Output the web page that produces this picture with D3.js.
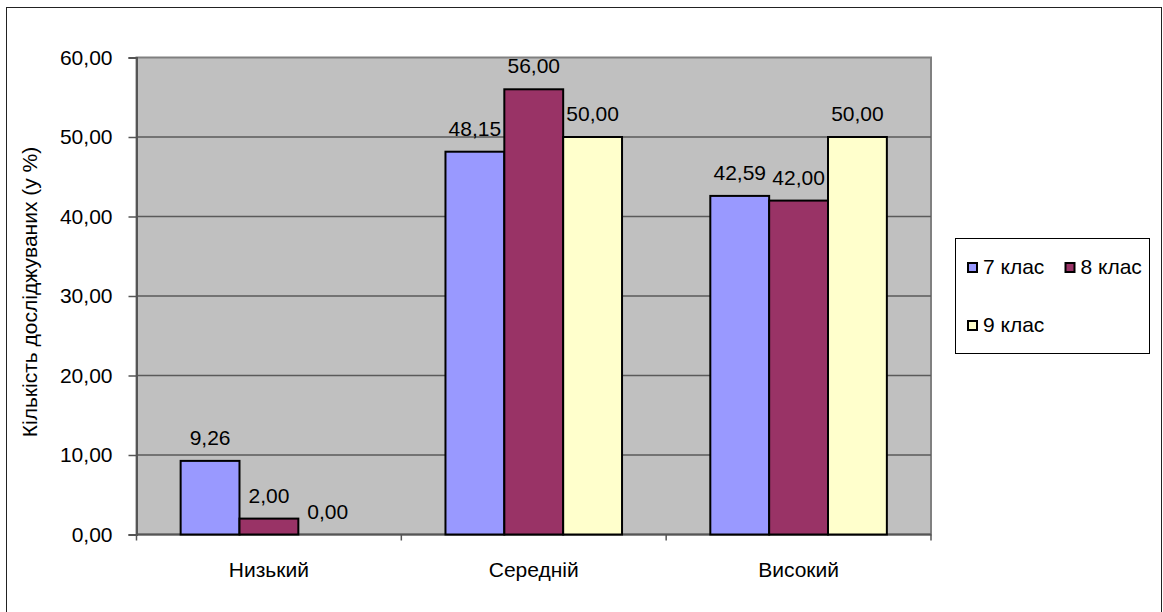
<!DOCTYPE html>
<html>
<head>
<meta charset="utf-8">
<script src="https://cdn.jsdelivr.net/npm/d3@7/dist/d3.min.js"></script>
<style>
  html, body { margin: 0; padding: 0; background: #fff; }
  svg { display: block; font-family: "Liberation Sans", Arial, sans-serif; }
</style>
</head>
<body>
<svg id="chart" width="1163" height="612"></svg>
<script>
// Levels and class groups
const categories = ["Низький", "Середній", "Високий"];
const seriesNames = ["7 клас", "8 клас", "9 клас"];
const seriesColors = ["#9999FF", "#993366", "#FFFFCC"];
const values7 = [9.26, 48.15, 42.59];
const values8 = [2.00, 56.00, 42.00];
const values9 = [0.00, 50.00, 50.00];
const yTicks = [0, 10, 20, 30, 40, 50, 60];
const yTitle = "Кількість досліджуваних (у %)";

const seriesValues = [values7, values8, values9];
const rows = categories.map((c, i) => ({
  category: c,
  items: seriesNames.map((s, k) => ({ series: s, k, value: seriesValues[k][i] }))
}));

const svg = d3.select("#chart");
const plot = { left: 136.5, right: 931, top: 57.5, bottom: 534.5 };
const FS = 21;

// Outer chart frame
svg.append("rect")
  .attr("x", 6.5).attr("y", 7.5)
  .attr("width", 1155).attr("height", 620)
  .attr("fill", "#fff").attr("stroke", "#222").attr("stroke-width", 1);

const y = d3.scaleLinear().domain([0, 60]).range([plot.bottom, plot.top]);
const x = d3.scaleBand().domain(categories).range([plot.left, plot.right]).padding(0);
const xs = d3.scaleBand().domain(seriesNames).range([0, x.bandwidth()])
  .paddingInner(0).paddingOuter(0.75);
const fmt = v => d3.format(".2f")(v).replace(".", ",");

// Plot area
svg.append("rect")
  .attr("x", plot.left).attr("y", plot.top)
  .attr("width", plot.right - plot.left).attr("height", plot.bottom - plot.top)
  .attr("fill", "#C0C0C0").attr("stroke", "#808080").attr("stroke-width", 2);

// Horizontal gridlines
svg.append("g").selectAll("line")
  .data(yTicks.filter(t => t > 0 && t < 60))
  .join("line")
  .attr("x1", plot.left).attr("x2", plot.right)
  .attr("y1", d => y(d)).attr("y2", d => y(d))
  .attr("stroke", "#5a5a5a").attr("stroke-width", 1.5);

// Y axis
const yAxis = svg.append("g")
  .attr("transform", `translate(${plot.left},0)`)
  .call(d3.axisLeft(y).tickValues(yTicks).tickFormat(fmt).tickSize(8).tickPadding(16));
yAxis.select(".domain").attr("stroke", "#555").attr("stroke-width", 2);
yAxis.selectAll(".tick line").attr("stroke", "#555").attr("stroke-width", 1.5);
yAxis.selectAll(".tick text")
  .attr("font-size", FS).attr("fill", "#000")
  .attr("font-family", "Liberation Sans, Arial, sans-serif");

// X axis: tick marks at category boundaries
const xAxisG = svg.append("g");
xAxisG.append("line")
  .attr("x1", plot.left).attr("x2", plot.right)
  .attr("y1", plot.bottom).attr("y2", plot.bottom)
  .attr("stroke", "#555").attr("stroke-width", 2);
const bounds = categories.map(c => x(c)).concat([x(categories[categories.length - 1]) + x.bandwidth()]);
xAxisG.selectAll("line.tk").data(bounds).join("line")
  .attr("class", "tk")
  .attr("x1", d => d).attr("x2", d => d)
  .attr("y1", plot.bottom).attr("y2", plot.bottom + 6)
  .attr("stroke", "#555").attr("stroke-width", 1.5);
xAxisG.selectAll("text").data(categories).join("text")
  .attr("x", d => x(d) + x.bandwidth() / 2)
  .attr("y", 577)
  .attr("text-anchor", "middle")
  .attr("font-size", FS)
  .text(d => d);

// Bars
const groups = svg.append("g").selectAll("g")
  .data(rows).join("g")
  .attr("transform", d => `translate(${x(d.category)},0)`);

groups.selectAll("rect")
  .data(d => d.items.filter(it => it.value > 0))
  .join("rect")
  .attr("x", d => xs(d.series))
  .attr("y", d => y(d.value))
  .attr("width", xs.bandwidth())
  .attr("height", d => y(0) - y(d.value))
  .attr("fill", d => seriesColors[d.k])
  .attr("stroke", "#000").attr("stroke-width", 2);

// Value labels
groups.selectAll("text")
  .data(d => d.items)
  .join("text")
  .attr("x", d => xs(d.series) + xs.bandwidth() / 2)
  .attr("y", d => y(d.value) - 16)
  .attr("text-anchor", "middle")
  .attr("font-size", FS)
  .text(d => fmt(d.value));

// Y axis title
svg.append("text")
  .attr("transform", `translate(37,${(plot.top + plot.bottom) / 2 - 4}) rotate(-90)`)
  .attr("text-anchor", "middle")
  .attr("font-size", FS)
  .text(yTitle);

// Legend
const legend = svg.append("g");
legend.append("rect")
  .attr("x", 955.5).attr("y", 238.5).attr("width", 194).attr("height", 115)
  .attr("fill", "#fff").attr("stroke", "#000").attr("stroke-width", 1);
const legendPos = [
  { x: 968, y: 274 },
  { x: 1065.5, y: 274 },
  { x: 968, y: 332 }
];
const li = legend.selectAll("g.item").data(seriesNames).join("g")
  .attr("class", "item")
  .attr("transform", (d, i) => `translate(${legendPos[i].x},${legendPos[i].y})`);
li.append("rect")
  .attr("x", 0).attr("y", -11).attr("width", 9).attr("height", 9)
  .attr("fill", (d, i) => seriesColors[i])
  .attr("stroke", "#000").attr("stroke-width", 2);
li.append("text")
  .attr("x", 15).attr("y", 0)
  .attr("font-size", FS)
  .text(d => d);
</script>
</body>
</html>
